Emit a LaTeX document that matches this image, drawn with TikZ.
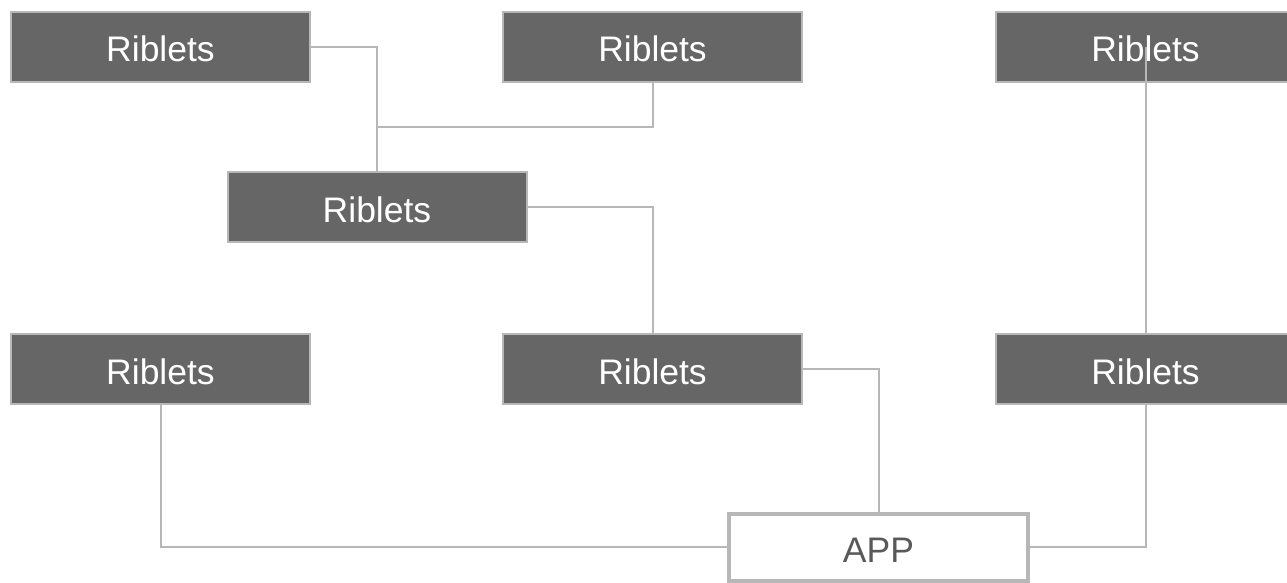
\documentclass[tikz,border=0pt]{standalone}
\usepackage{fontspec}
\setmainfont{Liberation Sans}
\definecolor{boxgray}{HTML}{666666}
\definecolor{linegray}{HTML}{B7B7B7}
\definecolor{textgray}{HTML}{595959}
\tikzset{
    riblet/.style={draw=linegray, line width=2pt, fill=boxgray, text=white,
        minimum width=299pt, minimum height=70pt, inner sep=0pt,
        text height=30pt, text depth=0pt,
        font=\fontsize{35.5}{42}\selectfont},
    appbox/.style={draw=linegray, line width=4pt, fill=white, text=textgray,
        minimum width=299pt, minimum height=67pt, inner sep=0pt,
        text height=30pt, text depth=0pt,
        font=\fontsize{35.5}{42}\selectfont},
    wire/.style={draw=linegray, line width=2pt}
}
\begin{document}
\begin{tikzpicture}[x=1pt, y=-1pt]
\useasboundingbox (0,0) rectangle (1287,583);
\foreach \n/\x/\y in {tl/160.5/47, tm/652.5/47, tr/1145.5/47, mid/377/207,
                      bl/160.5/369, bm/652.5/369, br/1145.5/369} {
    \node[riblet] (\n) at (\x,\y) {Riblets};
}
\node[appbox] (app) at (878.5,547) {APP};
\coordinate (join) at (377,127);
\draw[wire] (tl.east) -| (mid.north);
\draw[wire] (tm.south) |- (join);
\draw[wire] (mid.east) -| (bm.north);
\draw[wire] (tr.center) -- (br.north);
\draw[wire] (bl.south) |- (app.west);
\draw[wire] (bm.east) -| (app.north);
\draw[wire] (br.south) |- (app.east);
\end{tikzpicture}
\end{document}
